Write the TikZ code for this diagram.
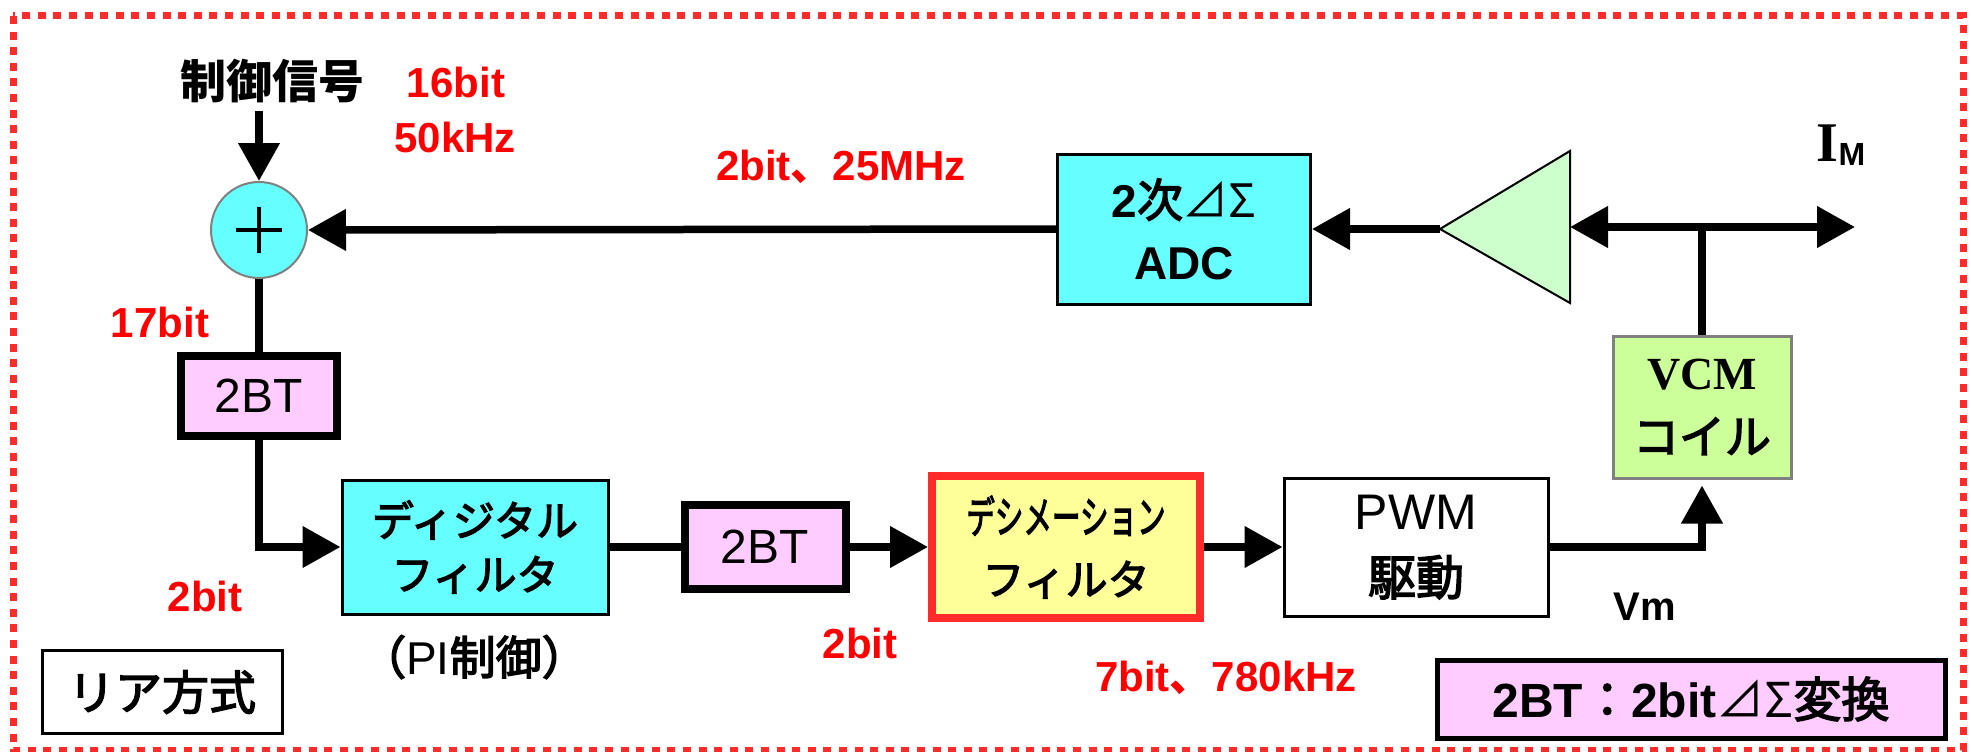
\documentclass[tikz,border=0pt]{standalone}
\usepackage{fontspec}
\setmainfont{Liberation Sans}
\newfontfamily\JP{Noto Sans CJK JP}
\newfontfamily\JPm{Noto Sans CJK JP}[FakeBold=3]
\newfontfamily\SER{Liberation Serif}
\usetikzlibrary{arrows.meta}
\definecolor{cyanc}{HTML}{66FFFF}
\definecolor{pinkc}{HTML}{FFCCFF}
\definecolor{yelc}{HTML}{FFFF99}
\definecolor{ampc}{HTML}{CCFFCC}
\definecolor{vcmc}{HTML}{CCFF99}
\definecolor{redb}{HTML}{FF2A2A}
\definecolor{redt}{HTML}{FF0000}
\begin{document}
\begin{tikzpicture}[x=1pt,y=-1pt,
  conn/.style={line width=7.5pt},
  arr/.style={line width=7.5pt,-{Triangle[length=38pt,width=40pt]}},
  lbl/.style={text=redt,font=\fontsize{42}{50}\selectfont\bfseries,inner sep=0pt},
  blk/.style={inner sep=0pt},
  box/.style={rectangle,inner sep=0pt,align=center,draw},
  bt/.style={box,line width=8pt,fill=pinkc,font=\fontsize{48}{50}\selectfont},
]
\useasboundingbox (0,0) rectangle (1971,752);
\draw[redb,line width=7pt,dash pattern=on 8pt off 7.6pt] (13,16) rectangle (1963,750);

% sum
\node[circle,draw=gray,line width=2pt,fill=cyanc,minimum size=96pt,inner sep=0pt] (sum) at (259,230) {};
\draw[line width=4pt] (sum.center) ++(-23,0) -- ++(46,0);
\draw[line width=4pt] (sum.center) ++(0,-23) -- ++(0,46);

\node[blk,font=\JP\bfseries\fontsize{46}{50}\selectfont] (ctrl) at (272,81) {制御信号};
\draw[arr] ([yshift=-8pt]ctrl.south -| sum.north) -- (sum.north);

% labels
\node[lbl] (l16) at (456,82) {16bit};
\node[lbl] (l50) at (455,137) {50kHz};
\node[lbl] (l25) at (841,167) {2bit{\JP 、}25MHz};
\node[lbl] (l17) at (160,322) {17bit};
\node[lbl] (l2a) at (205,596) {2bit};
\node[lbl] (l2b) at (860,643) {2bit};
\node[lbl] (l780) at (1226,678) {7bit{\JP 、}780kHz};

% ADC
\node[box,fill=cyanc,line width=3pt,minimum width=253pt,minimum height=150pt,
  font=\fontsize{46}{62}\selectfont\bfseries] (adc) at (1184,229) {2{\JPm\mdseries 次}{\JP\mdseries ⊿Σ}\\ADC};

% amplifier
\coordinate (amptip) at (1440,229);
\coordinate (ampbase) at (1570,227);
\draw[line width=2pt,fill=ampc] (amptip) -- (1570,151) -- (1570,303) -- cycle;
\draw[arr] (amptip) -- (adc.east);
\draw[arr] (adc.west) -- (sum.east);

% VCM
\node[box,draw=gray,line width=3pt,fill=vcmc,minimum width=178pt,minimum height=142pt,
  font=\fontsize{46}{64}\selectfont] (vcm) at (1702,407) {{\SER\bfseries VCM}\\{\JPm コイル}};
\coordinate (jn) at (1702,227);
\coordinate (imend) at (1855,227);
\draw[arr] (jn) -- (ampbase);
\draw[arr] (jn) -- (imend);
\draw[conn] (jn) -- (vcm.north);
\node[blk] (im) at (1841,145) {{\SER\bfseries\fontsize{56}{56}\selectfont I}\raisebox{-4pt}{\bfseries\fontsize{32}{32}\selectfont M}};

% bottom row
\node[bt,minimum width=156pt,minimum height=80pt] (bt1) at (259,396) {2BT};
\node[box,fill=cyanc,line width=3pt,minimum width=266pt,minimum height=134pt,
  font=\JPm\fontsize{42}{54}\selectfont] (df) at (475,547) {ディジタル\\フィルタ};
\node[bt,minimum width=161pt,minimum height=84pt] (bt2) at (765,547) {2BT};
\node[box,draw=redb,line width=8pt,fill=yelc,minimum width=268pt,minimum height=142pt,
  font=\JPm\fontsize{42}{62}\selectfont] (dec) at (1066,547) {\scalebox{0.68}[1.05]{デシメーション}\\フィルタ};
\node[box,line width=3pt,fill=white,minimum width=264pt,minimum height=138pt,
  font=\fontsize{50}{66}\selectfont] (pwm) at (1416,547) {PWM\\{\JPm\fontsize{48}{50}\selectfont 駆動}};

\draw[conn] (sum.south) -- (bt1.north);
\draw[arr] (bt1.south) |- (df.west);
\draw[conn] (df.east) -- (bt2.west);
\draw[arr] (bt2.east) -- (dec.west);
\draw[arr] (dec.east) -- (pwm.west);
\draw[arr] (pwm.east) -| ([yshift=-6pt]vcm.south);

\node[blk,font=\fontsize{46}{50}\selectfont] (pi) at (474,657) {{\JPm （}PI{\JPm 制御）}};
\node[blk,font=\fontsize{40}{50}\selectfont\bfseries] (vm) at (1645,607) {Vm};

\node[box,line width=3pt,fill=white,minimum width=240pt,minimum height=83pt,
  font=\JPm\fontsize{47}{50}\selectfont] (ria) at (162,692) {リア方式};
\node[box,line width=5pt,fill=pinkc,minimum width=508pt,minimum height=78pt,
  font=\fontsize{48}{50}\selectfont\bfseries] (leg) at (1691,699) {2BT{\JPm\mdseries ：}2bit{\JP\mdseries ⊿Σ}{\JPm\mdseries 変換}};
\end{tikzpicture}
\end{document}
